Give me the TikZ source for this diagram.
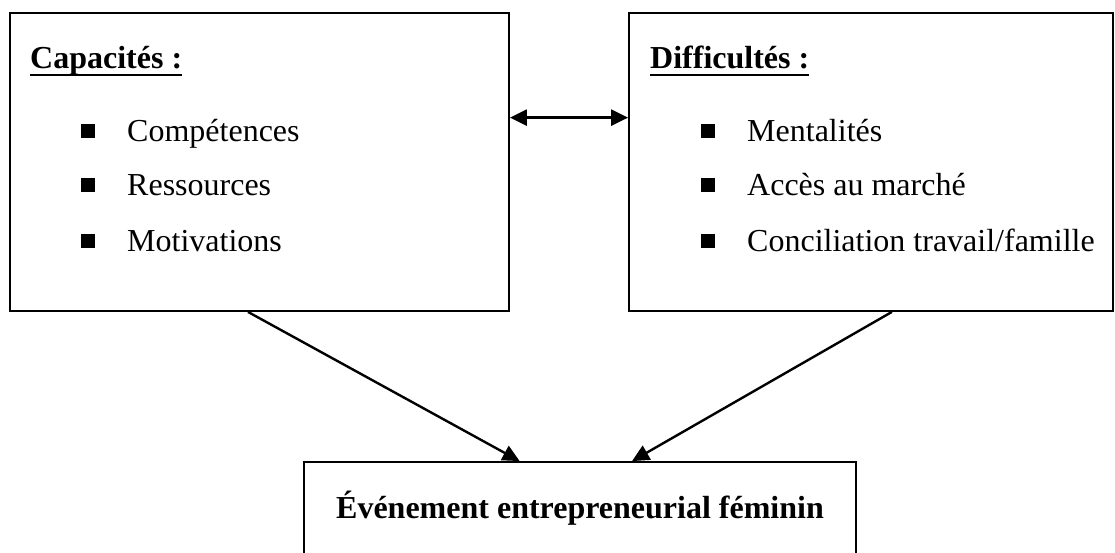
\documentclass[tikz,border=0pt]{standalone}
\usepackage{fontspec}
\setmainfont{Liberation Serif}
\usetikzlibrary{arrows.meta,calc}
\newcommand\myul[1]{\setbox0\hbox{#1}\rlap{\rule[-8pt]{\wd0}{2pt}}\box0}
\begin{document}
\begin{tikzpicture}[x=1pt,y=-1pt,
  box/.style={draw,line width=1.8pt,rectangle,inner sep=0pt},
  txt/.style={anchor=base west,inner sep=0pt,font=\fontsize{32}{38}\selectfont},
  ttl/.style={txt,font=\fontsize{32}{38}\selectfont\bfseries},
  bul/.style={fill=black,minimum size=14pt,inner sep=0pt,rectangle},
  tip/.style={Triangle[length=17pt,width=16pt]},
  arr/.style={line width=2.4pt,-{Triangle[length=17pt,width=16pt]}}]
\useasboundingbox (0,0) rectangle (1115,552);
\clip (0,0) rectangle (1115,552);
\fill[white] (0,0) rectangle (1115,552);
\node[box,minimum width=499pt,minimum height=298pt] (cap) at (259.5,162) {};
\node[box,minimum width=484pt,minimum height=298pt] (dif) at (871,162) {};
\node[box,minimum width=552pt,minimum height=120pt] (ev) at (580,522) {};
% left box text
\node[ttl] (capt) at (30,68) {\myul{Capacités :}};
\node[bul] (b1) at (87.5,131) {};
\node[bul] (b2) at (87.5,185) {};
\node[bul] (b3) at (87.5,241) {};
\node[txt] (c1) at (127,141.5) {Compétences};
\node[txt] (c2) at (127,195.5) {Ressources};
\node[txt] (c3) at (127,251.5) {Motivations};
% right box text
\node[ttl] (dift) at (650,68) {\myul{Difficultés :}};
\node[bul] (d1b) at (707.5,131) {};
\node[bul] (d2b) at (707.5,185) {};
\node[bul] (d3b) at (707.5,241) {};
\node[txt] (d1) at (747,141.5) {Mentalités};
\node[txt] (d2) at (747,195.5) {Accès au marché};
\node[txt] (d3) at (747,251.5) {Conciliation travail/famille};
% bottom text
\node[ttl,anchor=base] (evt) at (580,518) {Événement entrepreneurial féminin};
% connectors
\draw[line width=2.4pt,{Triangle[length=17pt,width=16pt]}-{Triangle[length=17pt,width=16pt]}]
  ($(cap.north east)!0.352!(cap.south east)$) -- ($(dif.north west)!0.352!(dif.south west)$);
\draw[arr] ($(cap.south west)!0.477!(cap.south east)$) -- ($(ev.north west)!0.391!(ev.north east)$);
\draw[arr] ($(dif.south west)!0.543!(dif.south east)$) -- ($(ev.north west)!0.594!(ev.north east)$);
\end{tikzpicture}
\end{document}
